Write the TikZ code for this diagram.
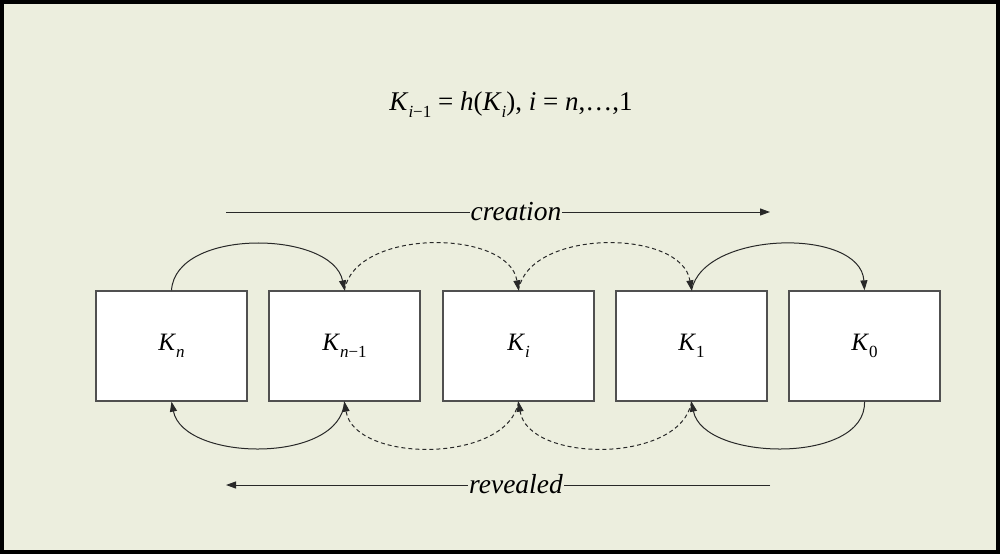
\documentclass[tikz,border=0pt]{standalone}
\usepackage{fontspec}
\setmainfont{Liberation Serif}
\usetikzlibrary{arrows.meta}
\definecolor{bg}{RGB}{236,238,222}
\definecolor{boxline}{RGB}{80,80,80}
\definecolor{arcline}{RGB}{40,40,40}
\newcommand{\ksub}[2]{\textit{#1}\raisebox{-0.28em}{\fontsize{17}{17}\selectfont #2}}
\begin{document}
\begin{tikzpicture}[x=1pt,y=-1pt,
 kbox/.style={draw=boxline,line width=1.3pt,fill=white,minimum width=151pt,minimum height=110pt,inner sep=0pt,font=\fontsize{25}{25}\selectfont},
 arc/.style={line width=1pt,draw=arcline,-{Triangle[length=10pt,width=7pt]}},
 dsh/.style={arc,dash pattern=on 4pt off 3pt},
 flow/.style={line width=1pt,draw=arcline},
 lbl/.style={fill=bg,inner sep=1pt,anchor=base,font=\fontsize{27.5}{27.5}\selectfont\itshape}]
\fill[bg] (0,0) rectangle (1000,554);
\draw[line width=4pt] (2,2) rectangle (998,552);
\node (f) [anchor=base,font=\fontsize{27}{27}\selectfont] at (511,110)
  {\ksub{K}{\textit{i}−1} = \textit{h}(\ksub{K}{\textit{i}}), \textit{i} = \textit{n},…,1};
\node (b1) [kbox] at (171.5,346) {\ksub{K}{\textit{n}}};
\node (b2) [kbox] at (344.5,346) {\ksub{K}{\textit{n}−1}};
\node (b3) [kbox] at (518.5,346) {\ksub{K}{\textit{i}}};
\node (b4) [kbox] at (691.5,346) {\ksub{K}{1}};
\node (b5) [kbox] at (864.5,346) {\ksub{K}{0}};
% top arcs (creation direction)
\draw[arc] (b1.north) .. controls +(4,-63) and +(-12,-60) .. (b2.north);
\draw[dsh] (b2.north) .. controls +(10,-62) and +(-10,-62) .. (b3.north);
\draw[dsh] (b3.north) .. controls +(10,-62) and +(-10,-62) .. (b4.north);
\draw[arc] (b4.north) .. controls +(12,-60) and +(-4,-63) .. (b5.north);
% bottom arcs (revealed direction)
\draw[arc] (b5.south) .. controls +(2,63) and +(12,60) .. (b4.south);
\draw[dsh] (b4.south) .. controls +(-10,62) and +(10,62) .. (b3.south);
\draw[dsh] (b3.south) .. controls +(-10,62) and +(10,62) .. (b2.south);
\draw[arc] (b2.south) .. controls +(-4,63) and +(12,60) .. (b1.south);
% creation / revealed
\coordinate (cs) at (226,212);
\coordinate (ce) at (770,212);
\coordinate (rs) at (770,485);
\coordinate (re) at (226,485);
\draw[flow,-{Triangle[length=10pt,width=7pt]}] (cs) -- (ce);
\draw[flow,-{Triangle[length=10pt,width=7pt]}] (rs) -- (re);
\node (cr) [lbl] at (516,220) {creation};
\node (rv) [lbl] at (516,493) {revealed};
\end{tikzpicture}
\end{document}
